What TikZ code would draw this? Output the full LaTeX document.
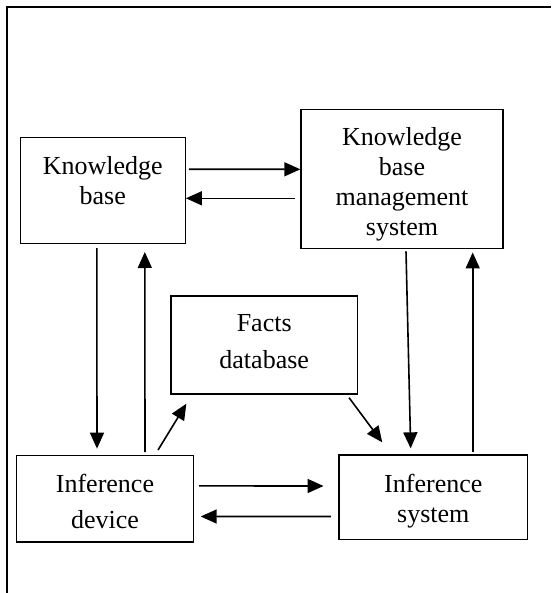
\documentclass[tikz,border=0pt]{standalone}
\usepackage{fontspec}
\setmainfont{Liberation Serif}
\usepackage{tikz}
\usetikzlibrary{arrows.meta}

\begin{document}
\begin{tikzpicture}[
  x=0.5pt, y=-0.5pt,
  box/.style={draw, line width=0.7pt, inner sep=0pt},
  lbl/.style={anchor=north, inner sep=0pt, align=center,
    font=\fontsize{13}{15}\selectfont},
  arr/.style={line width=0.8pt, -{Triangle[length=8pt,width=7pt]}}
  ]
\useasboundingbox (0,0) rectangle (551,593);

% frame
\draw[line width=1pt] (551,7) -- (7,7) -- (7,593);

% boxes
\node[box, minimum width=82.4pt, minimum height=53pt] (kb) at (102.8,190.3) {};
\node[box, minimum width=101pt, minimum height=69.75pt] (kbms) at (402,179) {};
\node[box, minimum width=93.15pt, minimum height=49pt] (facts) at (264.2,345) {};
\node[box, minimum width=88.3pt, minimum height=43.15pt] (idev) at (105,498.9) {};
\node[box, minimum width=94.35pt, minimum height=42.15pt] (isys) at (433.3,497.2) {};

% texts
\node[lbl] at ([shift={(0,19)}]kb.north) {Knowledge\\base};
\node[lbl] at ([shift={(0,19)}]kbms.north) {Knowledge\\base\\management\\system};
\node[lbl] at ([shift={(0,19)}]facts.north) {Facts\\[3.3pt]database};
\node[lbl] at ([shift={(0,19)}]idev.north) {Inference\\[2.8pt]device};
\node[lbl] at ([shift={(0,19)}]isys.north) {Inference\\system};

% arrows
\draw[arr] ([shift={(3,-21)}]kb.east) -- ([shift={(0,-9.7)}]kbms.west);
\draw[arr] ([shift={(-5,19.3)}]kbms.west) -- ([shift={(0,8)}]kb.east);
\draw[arr] ([shift={(-6,4)}]kb.south) -- ([shift={(-8,-6.4)}]idev.north);
\draw[arr] ([shift={(40,-3)}]idev.north) -- ([shift={(42,8)}]kb.south);
\draw[arr] ([shift={(53,-5)}]idev.north) -- ([shift={(16,9)}]facts.south west);
\draw[arr] ([shift={(-9,3)}]facts.south east) -- ([shift={(44,-12)}]isys.north west);
\draw[arr] ([shift={(4,2)}]kbms.south) -- ([shift={(-22.6,-6)}]isys.north);
\draw[arr] ([shift={(39.4,-2.3)}]isys.north) -- ([shift={(70.7,3)}]kbms.south);
\draw[arr] ([shift={(5,-13)}]idev.east) -- ([shift={(-14.7,-11.2)}]isys.west);
\draw[arr] ([shift={(-7.3,19.3)}]isys.west) -- ([shift={(6.7,17.6)}]idev.east);

\end{tikzpicture}
\end{document}
